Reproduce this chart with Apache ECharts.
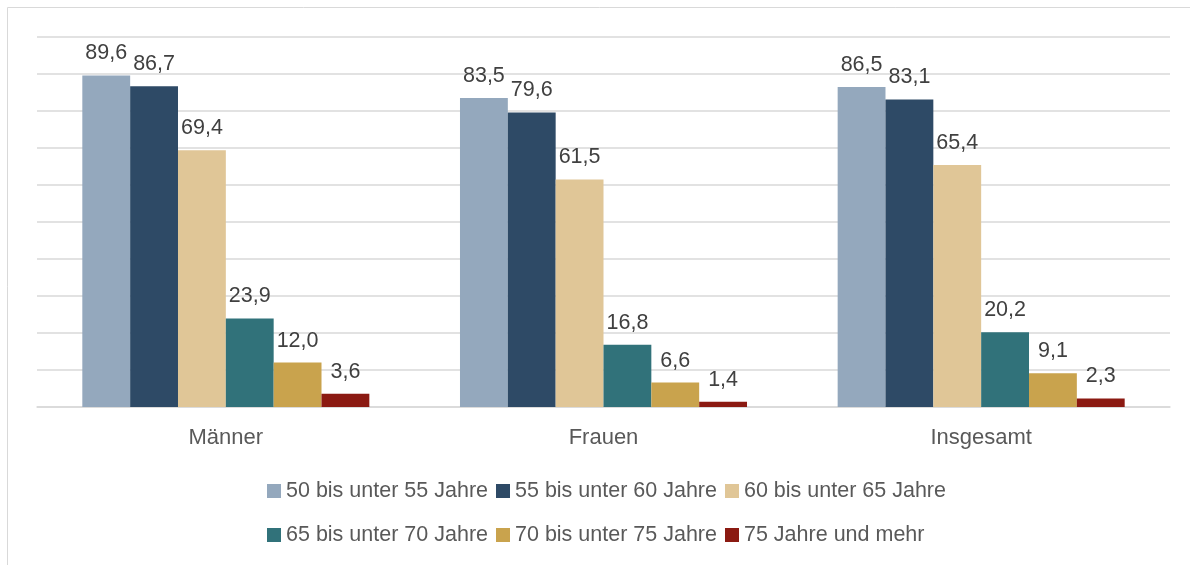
<!DOCTYPE html>
<html>
<head>
<meta charset="utf-8">
<script src="https://cdn.jsdelivr.net/npm/echarts@6/dist/echarts.min.js"></script>
<style>
  html, body { margin: 0; padding: 0; background: #fff; }
  #main { width: 1190px; height: 565px; }
</style>
</head>
<body>
<div id="main"></div>
<script>
const categories = ['Männer', 'Frauen', 'Insgesamt']
const seriesNames = [
  '50 bis unter 55 Jahre',
  '55 bis unter 60 Jahre',
  '60 bis unter 65 Jahre',
  '65 bis unter 70 Jahre',
  '70 bis unter 75 Jahre',
  '75 Jahre und mehr'
]
const values50 = [89.6, 83.5, 86.5]
const values55 = [86.7, 79.6, 83.1]
const values60 = [69.4, 61.5, 65.4]
const values65 = [23.9, 16.8, 20.2]
const values70 = [12.0, 6.6, 9.1]
const values75 = [3.6, 1.4, 2.3]
const colors = ['#94A8BD', '#2E4A66', '#E0C697', '#31727A', '#C9A34D', '#8B1A12']

const allValues = [values50, values55, values60, values65, values70, values75]
const font = '"Liberation Sans", Arial, sans-serif'

const myChart = echarts.init(document.getElementById('main'))

// legend in two rows, both starting at the same x
const legendRow = (names, top) => ({
  data: names,
  left: 267,
  top: top,
  padding: 0,
  itemWidth: 14,
  itemHeight: 14,
  itemGap: 8,
  icon: 'rect',
  textStyle: { color: '#595959', fontSize: 21.5, fontFamily: font }
})

myChart.setOption({
  animation: false,
  color: colors,
  textStyle: { fontFamily: font },
  graphic: [{
    type: 'rect',
    shape: { x: 7.5, y: 7.5, width: 1200, height: 600 },
    style: { fill: 'none', stroke: '#D9D9D9', lineWidth: 1 },
    silent: true
  }],
  grid: { left: 37, right: 20, top: 37, bottom: 158 },
  xAxis: {
    type: 'category',
    data: categories,
    axisTick: { show: false },
    axisLine: { lineStyle: { color: '#D9D9D9', width: 1.5 } },
    axisLabel: { color: '#595959', fontSize: 22, margin: 20, fontFamily: font }
  },
  yAxis: {
    type: 'value',
    min: 0,
    max: 100,
    interval: 10,
    axisLabel: { show: false },
    axisLine: { show: false },
    axisTick: { show: false },
    splitLine: { lineStyle: { color: '#D9D9D9', width: 1.5 } }
  },
  legend: [
    legendRow(seriesNames.slice(0, 3), 480),
    legendRow(seriesNames.slice(3), 524)
  ],
  series: seriesNames.map((name, i) => ({
    name: name,
    type: 'bar',
    data: allValues[i],
    barGap: '0%',
    barCategoryGap: '24%',
    label: {
      show: true,
      position: 'top',
      distance: 11,
      color: '#404040',
      fontSize: 21.5,
      fontFamily: font,
      formatter: p => p.value.toFixed(1).replace('.', ',')
    }
  }))
})
</script>
</body>
</html>
